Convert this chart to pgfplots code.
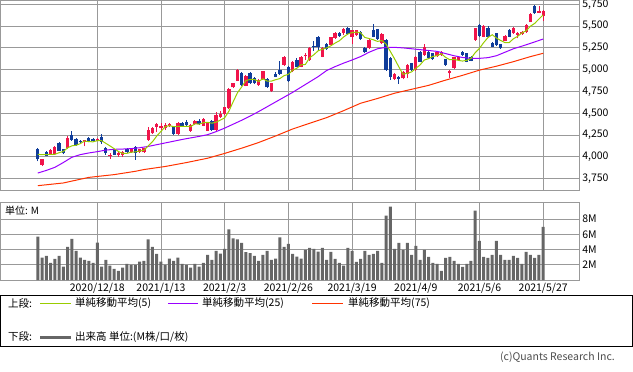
\documentclass[border=0pt]{standalone}
\usepackage{pgfplots}
\pgfplotsset{compat=1.18}
\usepackage{pgfplotstable}
\usepackage{fontspec}
\setmainfont{Noto Sans CJK JP}
\definecolor{candleup}{HTML}{F0144A}
\definecolor{candledn}{HTML}{0F3C9A}
\definecolor{maA}{HTML}{99CC00}
\definecolor{maB}{HTML}{9900FF}
\definecolor{maC}{HTML}{FF3300}
\definecolor{vol}{HTML}{666666}
\definecolor{gridc}{HTML}{999999}

\pgfplotstableread{
i o h l c
1 3907 3980 3895 3972
3 4033 4090 4025 4079
4 4033 4125 4028 4110
7 4105 4235 4095 4215
11 4167 4198 4121 4193
14 4186 4215 4180 4208
17 4008 4042 3977 4027
19 4023 4060 4000 4045
20 4023 4068 3996 4053
22 4057 4100 4050 4091
24 4056 4095 4045 4087
25 4052 4105 4045 4098
26 4194 4347 4186 4308
27 4270 4340 4260 4328
28 4347 4385 4290 4373
29 4328 4393 4308 4354
30 4335 4393 4308 4366
31 4354 4385 4345 4373
33 4263 4400 4255 4393
36 4297 4375 4290 4366
37 4377 4425 4370 4416
39 4358 4445 4350 4435
40 4301 4400 4295 4393
42 4308 4518 4300 4480
43 4454 4530 4445 4492
44 4492 4575 4485 4568
45 4557 4790 4550 4775
46 4798 4850 4790 4843
47 4874 5008 4870 4996
49 4817 4940 4810 4931
52 4824 4890 4815 4882
53 4893 4988 4882 4981
55 4752 4850 4745 4843
58 5053 5160 5045 5149
60 4981 5103 4970 5084
62 5034 5160 5027 5149
63 5156 5191 5111 5168
64 5111 5256 5100 5244
67 5150 5255 5140 5245
69 5287 5380 5280 5370
70 5363 5430 5355 5420
72 5420 5480 5400 5468
74 5380 5460 5300 5450
75 5397 5460 5390 5450
78 5245 5350 5235 5340
81 5302 5420 5295 5405
84 4889 4960 4880 4950
86 4901 4990 4890 4977
87 4950 5065 4900 5054
89 4996 5160 4990 5149
91 5168 5295 5160 5264
94 5157 5205 5150 5199
95 5168 5215 5160 5207
97 4958 5000 4900 4989
98 5016 5150 5005 5142
99 5111 5150 5100 5142
103 5340 5480 5330 5474
105 5379 5510 5370 5501
110 5333 5395 5325 5386
112 5417 5490 5410 5482
113 5398 5430 5360 5424
114 5409 5445 5400 5436
115 5428 5520 5420 5512
116 5551 5645 5545 5639
118 5654 5730 5646 5673
119 5616 5680 5562 5673
}\upT

\pgfplotstableread{
i o h l c
0 4090 4100 3950 3972
2 4060 4065 4005 4010
5 4163 4170 4065 4071
6 4086 4095 4030 4040
8 4250 4292 4186 4197
9 4205 4212 4129 4140
10 4186 4195 4160 4167
12 4212 4227 4167 4178
13 4208 4215 4180 4186
15 4231 4261 4148 4167
16 4102 4110 4023 4042
18 4083 4090 4020 4027
21 4091 4098 4045 4053
23 4115 4130 3965 4050
32 4347 4355 4255 4263
34 4393 4400 4345 4354
35 4404 4420 4360 4366
38 4416 4430 4370 4377
41 4416 4425 4300 4308
48 4958 4970 4817 4828
50 4962 4975 4835 4843
51 4904 4915 4835 4843
54 4893 4900 4790 4798
56 4950 4970 4912 4920
57 4996 5103 4943 4950
59 5034 5045 4860 4866
61 5111 5134 5027 5034
65 5275 5332 5217 5264
66 5378 5390 5217 5256
68 5294 5305 5228 5236
71 5420 5428 5375 5382
73 5478 5490 5395 5405
76 5436 5445 5340 5348
77 5245 5260 5190 5199
79 5455 5524 5370 5379
80 5463 5470 5345 5352
82 5340 5350 4990 4996
83 5130 5140 4882 4920
85 4920 4930 4836 4893
88 5073 5080 4990 4996
90 5207 5215 5085 5092
92 5207 5215 5120 5130
93 5188 5195 5110 5119
96 5119 5125 5045 5054
100 5207 5215 5160 5168
101 5188 5195 5085 5092
102 5149 5155 5095 5103
104 5512 5520 5380 5386
106 5474 5500 5370 5379
107 5310 5320 5255 5264
108 5417 5425 5275 5283
109 5290 5300 5235 5245
111 5455 5465 5370 5379
117 5730 5740 5640 5646
}\dnT

\pgfplotstableread{
i m
0 4030
1 4025
2 4025
3 4030
4 4029
5 4048
6 4062
7 4103
8 4127
9 4133
10 4152
11 4182
12 4175
13 4173
14 4186
15 4186
16 4156
17 4126
18 4094
19 4062
20 4039
21 4041
22 4054
23 4058
24 4067
25 4076
26 4127
27 4174
28 4239
29 4292
30 4346
31 4359
32 4346
33 4350
34 4350
35 4350
36 4348
37 4379
38 4376
39 4392
40 4397
41 4386
42 4399
43 4422
44 4448
45 4525
46 4632
47 4735
48 4802
49 4875
50 4888
51 4888
52 4865
53 4896
54 4869
55 4869
56 4885
57 4898
58 4932
59 4946
60 4994
61 5017
62 5056
63 5060
64 5136
65 5172
66 5216
67 5235
68 5249
69 5274
70 5305
71 5331
72 5375
73 5409
74 5425
75 5431
76 5424
77 5370
78 5357
79 5343
80 5324
81 5335
82 5294
83 5210
84 5125
85 5033
86 4947
87 4959
88 4974
89 5014
90 5054
91 5111
92 5126
93 5151
94 5161
95 5184
96 5142
97 5114
98 5118
99 5107
100 5099
101 5107
102 5129
103 5196
104 5245
105 5311
106 5369
107 5401
108 5363
109 5334
110 5311
111 5311
112 5355
113 5383
114 5421
115 5447
116 5499
117 5531
118 5581
119 5629
}\maAT

\pgfplotstableread{
i m
0 3815
2 3845
4 3880
6 3935
8 3995
10 4026
12 4045
14 4060
16 4078
18 4087
20 4090
22 4095
24 4105
26 4120
28 4140
30 4160
32 4180
34 4200
36 4218
38 4235
40 4255
42 4290
44 4330
46 4375
48 4420
50 4468
52 4520
54 4575
56 4630
58 4685
60 4740
62 4800
64 4860
66 4920
68 4990
70 5035
72 5075
74 5111
76 5150
78 5200
80 5240
82 5256
84 5256
86 5250
88 5240
90 5230
92 5220
94 5210
96 5185
98 5160
100 5140
102 5130
104 5130
106 5138
108 5160
110 5200
112 5240
114 5270
116 5302
118 5335
119 5352
}\maBT

\pgfplotstableread{
i m
0 3670
6 3701
12 3765
18 3797
23 3835
25 3855
30 3890
35 3935
40 3985
44 4040
48 4100
52 4165
56 4240
60 4320
64 4385
68 4450
72 4530
76 4615
80 4670
84 4730
88 4775
92 4820
96 4880
100 4935
104 4995
108 5040
112 5092
116 5150
119 5188
}\maCT

\pgfplotstableread{
i v
0 5.71
1 2.95
2 3.16
3 2.24
4 2.77
5 3.16
6 1.76
7 4.35
8 5.41
9 3.82
10 2.95
11 2.64
12 2.51
13 2.24
14 4.92
15 1.76
16 2.64
17 1.89
18 1.45
19 1.19
20 1.63
21 2.11
22 1.98
23 1.98
24 2.42
25 2.51
26 5.32
27 4.35
28 3.43
29 2.42
30 1.98
31 2.81
32 2.51
33 2.95
34 2.11
35 1.98
36 1.63
37 2.11
38 1.76
39 2.24
40 3.30
41 2.64
42 3.82
43 3.47
44 4.09
45 6.64
46 5.45
47 5.32
48 4.88
49 3.65
50 3.52
51 3.16
52 2.51
53 3.30
54 3.82
55 2.64
56 2.81
57 5.58
58 4.35
59 4.75
60 3.43
61 3.08
62 2.81
63 3.96
64 4.22
65 4.09
66 3.74
67 4.22
68 2.64
69 3.69
70 2.77
71 2.24
72 1.89
73 4.22
74 3.82
75 2.37
76 2.77
77 3.82
78 3.30
79 3.43
80 3.82
81 2.24
82 8.44
83 9.63
84 4.09
85 4.88
86 3.96
87 4.88
88 3.30
89 4.48
90 2.64
91 3.96
92 3.03
93 2.24
94 2.11
95 1.19
96 2.90
97 3.03
98 2.51
99 2.11
100 1.71
101 2.11
102 2.51
103 9.10
104 5.14
105 3.03
106 2.90
107 3.30
108 5.14
109 3.30
110 2.64
111 2.64
112 3.16
113 2.90
114 2.11
115 3.69
116 3.30
117 2.90
118 3.30
119 6.99
}\volT

\pgfplotsset{
  panel/.style={
    scale only axis, width=579.3pt,
    xmin=-8.9, xmax=127.5,
    xtick={14,29,44,59,74,89,104,119},
    grid=major,
    major grid style={gridc, line width=0.8pt},
    axis line style={gridc, line width=0.8pt},
    major tick length=0pt,
    yticklabel pos=right,
    tick label style={font=\fontsize{10.5}{12}\selectfont, text=black},
    yticklabel style={anchor=west, xshift=-0.5pt},
  }
}

\begin{document}
\begin{tikzpicture}[x=1pt,y=1pt]
\useasboundingbox (0pt,0pt) rectangle (633pt,-372pt);
\begin{axis}[panel, at={(0pt,0pt)}, anchor=north west, height=190.3pt,
  ymin=3617, ymax=5799,
  ytick={3750,4000,4250,4500,4750,5000,5250,5500,5750},
  xticklabels={},
  yticklabel style={/pgf/number format/1000 sep={,}, /pgf/number format/assume math mode=true},
]
\addplot[draw=none, forget plot, error bars/.cd, y dir=plus, y explicit, error mark=none,
  error bar style={draw=candledn, line width=0.9pt}]
  table[x=i, y=l, y error expr={\thisrow{h}-\thisrow{l}}] {\dnT};
\addplot[draw=none, forget plot, error bars/.cd, y dir=plus, y explicit, error mark=none,
  error bar style={draw=candleup, line width=0.9pt}]
  table[x=i, y=l, y error expr={\thisrow{h}-\thisrow{l}}] {\upT};
\addplot[draw=none, forget plot, error bars/.cd, y dir=plus, y explicit, error mark=none,
  error bar style={draw=candledn, line width=3.4pt}]
  table[x=i, y expr={min(\thisrow{o},\thisrow{c})}, y error expr={max(abs(\thisrow{c}-\thisrow{o}),10)}] {\dnT};
\addplot[draw=none, forget plot, error bars/.cd, y dir=plus, y explicit, error mark=none,
  error bar style={draw=candleup, line width=3.4pt}]
  table[x=i, y expr={min(\thisrow{o},\thisrow{c})}, y error expr={max(abs(\thisrow{c}-\thisrow{o}),10)}] {\upT};
\addplot[maC, line width=1pt, mark=none] table[x=i, y=m] {\maCT};
\addplot[maB, line width=1pt, mark=none] table[x=i, y=m] {\maBT};
\addplot[maA, line width=1pt, mark=none] table[x=i, y=m] {\maAT};
\end{axis}

\begin{axis}[panel, at={(0pt,-202.3pt)}, anchor=north west, height=77.7pt,
  ymin=0, ymax=10.2,
  ytick={2,4,6,8}, yticklabels={2M,4M,6M,8M},
  xticklabels={2020/12/18,2021/1/13,2021/2/3,2021/2/26,2021/3/19,2021/4/9,2021/5/6,2021/5/27},
  xticklabel style={yshift=0pt},
]
\addplot[ybar, bar width=3pt, fill=vol, draw=none] table[x=i, y=v] {\volT};
\node[anchor=west, font=\fontsize{10}{12}\selectfont, inner sep=0pt] at (rel axis cs:0,1) [xshift=5pt, yshift=-8.5pt] {単位: M};
\end{axis}

\draw[black, line width=0.8pt] (0.4pt,-295pt) rectangle (632.6pt,-346.3pt);
\begin{scope}[every node/.style={font=\fontsize{10.5}{12}\selectfont, anchor=west, inner sep=0pt}]
\node at (8pt,-303.5pt) {上段:};
\draw[draw=maA, line width=1.2pt] (40pt,-303.5pt) -- (71pt,-303.5pt);
\node at (75pt,-303.5pt) {単純移動平均(5)};
\draw[draw=maB, line width=1.2pt] (168pt,-303.5pt) -- (198pt,-303.5pt);
\node at (202pt,-303.5pt) {単純移動平均(25)};
\draw[draw=maC, line width=1.2pt] (312pt,-303.5pt) -- (343pt,-303.5pt);
\node at (348pt,-303.5pt) {単純移動平均(75)};
\node at (8pt,-337pt) {下段:};
\draw[draw=vol, line width=3pt] (40pt,-337pt) -- (71pt,-337pt);
\node at (75pt,-337pt) {出来高 単位:(M株/口/枚)};
\end{scope}
\node[anchor=east, inner sep=0pt, font=\fontsize{10.5}{12}\selectfont, text=black!70] at (615pt,-357.7pt) {(c)Quants Research Inc.};
\end{tikzpicture}
\end{document}
